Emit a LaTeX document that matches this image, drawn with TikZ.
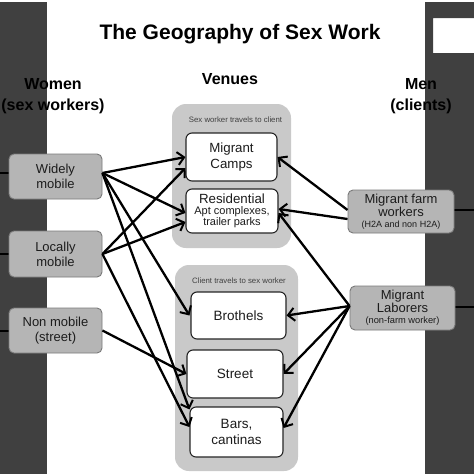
\documentclass[tikz,border=0pt]{standalone}
\usepackage{fontspec}
\setmainfont{Liberation Sans}
\usetikzlibrary{arrows.meta,calc}
\definecolor{barcol}{HTML}{404040}
\definecolor{groupcol}{HTML}{C9C9C9}
\definecolor{sidecol}{HTML}{B5B5B5}
\definecolor{sideedge}{HTML}{7A7A7A}
\definecolor{txtcol}{HTML}{1C1C1C}
\begin{document}
\begin{tikzpicture}[x=1pt,y=-1pt,
  sidebox/.style={draw=sideedge, line width=0.9pt, fill=sidecol, rounded corners=5pt,
    align=center, text=txtcol, inner sep=0pt},
  venuebox/.style={draw=black!85, line width=1.1pt, fill=white, rounded corners=6pt,
    align=center, text=txtcol, inner sep=0pt},
  groupbox/.style={fill=groupcol, rounded corners=14pt},
  grouplabel/.style={text=black!75, font=\fontsize{7.8}{9}\selectfont, inner sep=0pt},
  heading/.style={font=\bfseries\fontsize{16}{21}\selectfont, align=center, inner sep=0pt},
  arr/.style={line width=2.3pt, -{Straight Barb[length=6.5pt,width=13pt,line width=2pt]}},
  stub/.style={line width=2pt}]
\useasboundingbox (0,0) rectangle (474,474);
\fill[white] (0,0) rectangle (474,474);
% dark side bars
\fill[barcol] (0,2) rectangle (47,474);
\fill[barcol] (425,2) -- (474,2) -- (474,18) -- (433,18) -- (433,53) -- (474,53) -- (474,474) -- (425,474) -- cycle;
% title and headings
\node[font=\bfseries\fontsize{21}{25}\selectfont, inner sep=0pt] (title) at (240,34) {The Geography of Sex Work};
\node[heading] (venues) at (230,79) {Venues};
\node[heading] (women) at (53,96) {Women\\(sex workers)};
\node[heading] (men) at (421,96) {Men\\(clients)};
% venue groups
\node[groupbox, minimum width=119pt, minimum height=144pt] (g1) at (231.5,176) {};
\node[groupbox, minimum width=123pt, minimum height=206pt] (g2) at (236.5,368) {};
\node[grouplabel] (g1l) at (235.5,120) {Sex worker travels to client};
\node[grouplabel] (g2l) at (239,281) {Client travels to sex worker};
% venues
\node[venuebox, minimum width=91pt, minimum height=48pt, font=\fontsize{13.3}{16}\selectfont] (camps) at (231.5,157) {Migrant\\Camps};
\node[venuebox, minimum width=92pt, minimum height=44pt] (res) at (232,211)
  {{\fontsize{13.3}{14}\selectfont Residential}\\[-1pt]{\fontsize{11}{13}\selectfont Apt complexes,}\\[-1pt]{\fontsize{11}{13}\selectfont trailer parks}};
\node[venuebox, minimum width=95pt, minimum height=47pt, font=\fontsize{13.5}{16}\selectfont] (broth) at (238.5,315.5) {Brothels};
\node[venuebox, minimum width=96pt, minimum height=48pt, font=\fontsize{13.5}{16}\selectfont] (street) at (235,374) {Street};
\node[venuebox, minimum width=93pt, minimum height=50pt, font=\fontsize{13.5}{16}\selectfont] (bars) at (236.5,432) {Bars,\\cantinas};
% women boxes
\coordinate (lw) at (0,173);
\coordinate (ll) at (0,254);
\coordinate (ln) at (0,331);
\draw[stub] (lw) -- ++(12,0);
\draw[stub] (ll) -- ++(12,0);
\draw[stub] (ln) -- ++(12,0);
\node[sidebox, minimum width=93pt, minimum height=45pt, font=\fontsize{13}{15}\selectfont] (W) at (55.5,176.5) {Widely\\mobile};
\node[sidebox, minimum width=93pt, minimum height=46pt, font=\fontsize{13}{15}\selectfont] (L) at (55.5,254) {Locally\\mobile};
\node[sidebox, minimum width=93pt, minimum height=45pt, font=\fontsize{13}{15}\selectfont] (N) at (55.5,330.5) {Non mobile\\(street)};
% men boxes
\coordinate (rf) at (474,210);
\coordinate (rl) at (474,307);
\draw[stub] (rf) -- ++(-22,0);
\draw[stub] (rl) -- ++(-22,0);
\node[sidebox, minimum width=106pt, minimum height=43pt] (farm) at (401,211.5)
  {{\fontsize{13}{14}\selectfont Migrant farm}\\{\fontsize{13}{14}\selectfont workers}\\[-1pt]{\fontsize{9}{11}\selectfont (H2A and non H2A)}};
\node[sidebox, minimum width=105pt, minimum height=44pt] (lab) at (402.5,308)
  {{\fontsize{13}{14}\selectfont Migrant}\\{\fontsize{13}{14}\selectfont Laborers}\\[-1pt]{\fontsize{9.3}{11}\selectfont (non-farm worker)}};
% arrows from women
\draw[arr] ([yshift=3.5pt]W.east) -- (camps.west);
\draw[arr] ([yshift=3.5pt]W.east) -- ([yshift=-2pt]res.west);
\draw[arr] ([yshift=3.5pt]W.east) -- ([xshift=-1pt]broth.west);
\draw[arr] ([yshift=3.5pt]W.east) -- ([yshift=-3pt]bars.north west);
\draw[arr] (L.east) -- ([yshift=-11pt]camps.west);
\draw[arr] (L.east) -- ([yshift=-11pt]res.west);
\draw[arr] (L.east) -- ([yshift=5pt]bars.west);
\draw[arr] (N.east) -- (street.west);
% arrows from men
\draw[arr] ([yshift=1.5pt]farm.west) -- (camps.east);
\draw[arr] ([yshift=-7.5pt]farm.west) -- ([yshift=2pt]res.east);
\draw[arr] ([yshift=2pt]lab.west) -- ([yshift=-2pt]res.east);
\draw[arr] ([yshift=2pt]lab.west) -- (broth.east);
\draw[arr] ([yshift=2pt]lab.west) -- (street.east);
\draw[arr] ([yshift=2pt]lab.west) -- ([yshift=4pt]bars.east);
\end{tikzpicture}
\end{document}
